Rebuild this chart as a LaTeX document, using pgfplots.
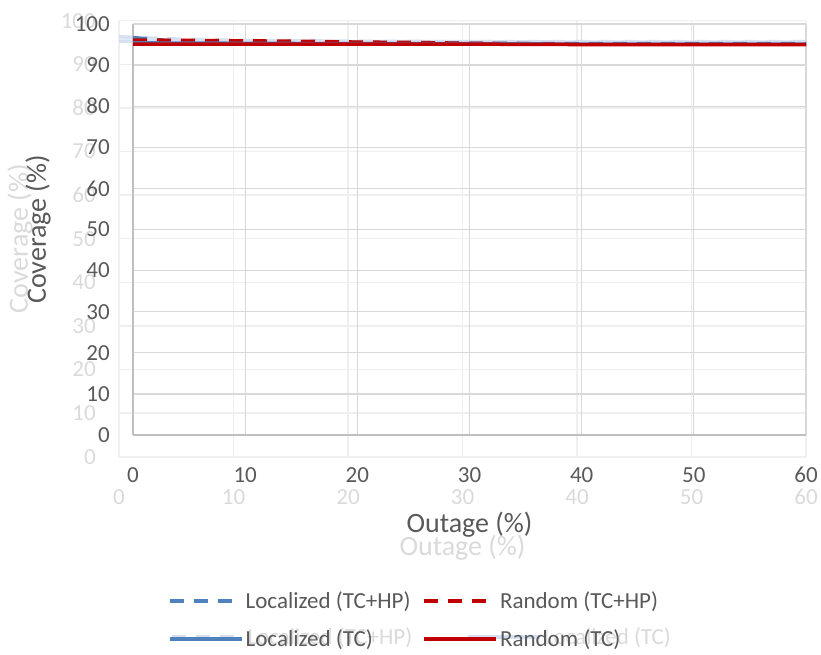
\documentclass[border=0pt]{standalone}
\usepackage{pgfplots}
\pgfplotsset{compat=1.18}
\usepackage{fontspec}
\setmainfont{Carlito}
\definecolor{txt}{HTML}{595959}
\definecolor{ghost}{HTML}{DADADA}
\definecolor{gline}{HTML}{D6E0F1}
\definecolor{ggrid}{HTML}{EFEFEF}
\definecolor{blu}{HTML}{4F81BD}
\definecolor{rd}{HTML}{C00000}
\definecolor{grd}{HTML}{D9D9D9}
\definecolor{axl}{HTML}{BFBFBF}
\pgfplotsset{
  common/.style={scale only axis, anchor=south west,
    xmin=0, xmax=60, ymin=0, ymax=100,
    xtick={0,10,...,60}, ytick={0,10,...,100},
    major tick length=0pt,
    /pgf/number format/assume math mode=true,
    axis lines*=left, grid=major,
    legend cell align=left, legend columns=2,
    legend image code/.code={\draw[##1] (0pt,0pt) -- (72pt,0pt);},
    yticklabel style={anchor=east, inner sep=0pt, xshift=-23pt},
    xticklabel style={anchor=center, inner sep=0pt, yshift=-40pt},
    xlabel={Outage (\%)}, ylabel={Coverage (\%)},
  }
}
\begin{document}
\begin{tikzpicture}
\path[use as bounding box] (0pt,0pt) rectangle (821pt,-655pt);
% ghost chart behind
\begin{axis}[common, at={(119pt,-456.7pt)}, width=687pt, height=436pt,
  grid style={ggrid, line width=1.3pt}, axis line style={ggrid, line width=1.8pt},
  tick label style={font=\fontsize{23}{28}\selectfont, text=ghost},
  xlabel style={at={(axis description cs:0.5,-0.2094)}, anchor=center, font=\fontsize{28}{34}\selectfont, text=ghost},
  ylabel style={at={(axis description cs:-0.144,0.5)}, anchor=center, font=\fontsize{28}{34}\selectfont, text=ghost},
  legend style={at={(axis description cs:0.074,-0.4135)}, anchor=west, draw=none, fill=none, inner sep=0pt,
    font=\fontsize{23}{27}\selectfont, text=ghost,
    /tikz/every even column/.append style={column sep=52pt}},
]
\addplot[gline, line width=3.5pt, dash pattern=on 14pt off 10pt] coordinates {(0,96.3) (5,95.8) (10,95.5) (20,95.3) (30,95.2) (40,95.2) (50,95.2) (60,95.2)};
\addlegendentry{Localized (TC+HP)}
\addplot[gline, line width=3.5pt] coordinates {(0,95.3) (10,95.2) (20,95.2) (30,95.2) (40,95.1) (50,95.1) (60,95.1)};
\addlegendentry{Localized (TC)}
\end{axis}
% main chart
\begin{axis}[common, at={(133pt,-435pt)}, width=673pt, height=411pt,
  grid style={grd, line width=1.3pt}, axis line style={axl, line width=1.8pt},
  tick label style={font=\fontsize{23}{28}\selectfont, text=txt},
  xlabel style={at={(axis description cs:0.5,-0.219)}, anchor=center, font=\fontsize{28}{34}\selectfont, text=txt},
  ylabel style={at={(axis description cs:-0.141,0.5)}, anchor=center, font=\fontsize{28}{34}\selectfont, text=txt},
  legend style={at={(axis description cs:0.052,-0.450)}, anchor=west, draw=none, fill=none, inner sep=0pt,
    font=\fontsize{23}{27}\selectfont, text=txt, row sep=16pt,
    /tikz/every even column/.append style={column sep=10pt}},
]
\addplot[blu, line width=3.5pt, dash pattern=on 14pt off 10pt] coordinates {(0,96.7) (3,96.0) (10,95.7) (20,95.5) (30,95.3) (40,95.2) (50,95.2) (60,95.2)};
\addlegendentry{Localized (TC+HP)}
\addplot[rd, line width=3.5pt, dash pattern=on 14pt off 10pt] coordinates {(0,96.1) (5,96.0) (10,95.9) (15,95.8) (20,95.6) (25,95.5) (30,95.3) (35,95.2) (40,95.1) (50,95.1) (60,95.1)};
\addlegendentry{Random (TC+HP)}
\addplot[blu, line width=3.5pt] coordinates {(0,95.4) (10,95.3) (20,95.2) (30,95.2) (40,95.1) (50,95.1) (60,95.1)};
\addlegendentry{Localized (TC)}
\addplot[rd, line width=3.5pt] coordinates {(0,95.1) (10,95.1) (20,95.1) (30,95.1) (40,95.0) (50,95.0) (60,95.0)};
\addlegendentry{Random (TC)}
\end{axis}
\end{tikzpicture}
\end{document}
